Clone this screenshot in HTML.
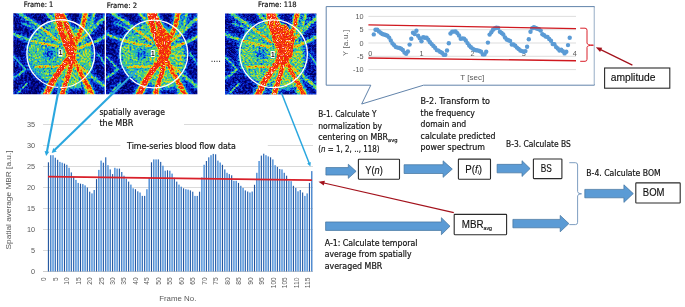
<!DOCTYPE html>
<html><head><meta charset="utf-8"><title>Figure</title>
<style>
html,body{margin:0;padding:0;background:#fff;}
svg{display:block;}
text{font-family:"Liberation Sans",sans-serif;}
.g{fill:#595959;}
.k{fill:#111;stroke:#111;stroke-width:0.18px;font-family:"DejaVu Sans","Liberation Sans",sans-serif;}
.b{fill:#111;stroke:#111;stroke-width:0.15px;}
</style></head><body>
<svg width="685" height="307" viewBox="0 0 685 307">
<rect width="685" height="307" fill="#fff"/>

<defs>
<filter id="jet1" x="0" y="0" width="1" height="1" color-interpolation-filters="sRGB" filterUnits="objectBoundingBox">
<feTurbulence type="fractalNoise" baseFrequency="0.5" numOctaves="2" seed="3" result="n"/>
<feColorMatrix in="n" type="matrix" values="1 0 0 0 0  1 0 0 0 0  1 0 0 0 0  0 0 0 0 1" result="ng"/>
<feComposite in="SourceGraphic" in2="ng" operator="arithmetic" k1="0.5" k2="0.75" k3="0.42" k4="-0.245" result="m"/>
<feComponentTransfer in="m" result="c">
<feFuncR type="table" tableValues="0.00 0.03 0.05 0.10 0.30 0.75 1.00 0.97 0.93 0.97 1.00"/>
<feFuncG type="table" tableValues="0.00 0.08 0.32 0.68 0.82 0.90 0.70 0.30 0.12 0.16 0.85"/>
<feFuncB type="table" tableValues="0.36 0.72 0.90 0.82 0.45 0.15 0.05 0.03 0.05 0.10 0.80"/>
</feComponentTransfer>
<feGaussianBlur in="c" stdDeviation="0.5"/>
</filter>
<filter id="jet2" x="0" y="0" width="1" height="1" color-interpolation-filters="sRGB" filterUnits="objectBoundingBox">
<feTurbulence type="fractalNoise" baseFrequency="0.5" numOctaves="2" seed="11" result="n"/>
<feColorMatrix in="n" type="matrix" values="1 0 0 0 0  1 0 0 0 0  1 0 0 0 0  0 0 0 0 1" result="ng"/>
<feComposite in="SourceGraphic" in2="ng" operator="arithmetic" k1="0.5" k2="0.75" k3="0.42" k4="-0.232" result="m"/>
<feComponentTransfer in="m" result="c">
<feFuncR type="table" tableValues="0.00 0.03 0.05 0.10 0.30 0.75 1.00 0.97 0.93 0.97 1.00"/>
<feFuncG type="table" tableValues="0.00 0.08 0.32 0.68 0.82 0.90 0.70 0.30 0.12 0.16 0.85"/>
<feFuncB type="table" tableValues="0.36 0.72 0.90 0.82 0.45 0.15 0.05 0.03 0.05 0.10 0.80"/>
</feComponentTransfer>
<feGaussianBlur in="c" stdDeviation="0.5"/>
</filter>
<filter id="jet3" x="0" y="0" width="1" height="1" color-interpolation-filters="sRGB" filterUnits="objectBoundingBox">
<feTurbulence type="fractalNoise" baseFrequency="0.5" numOctaves="2" seed="23" result="n"/>
<feColorMatrix in="n" type="matrix" values="1 0 0 0 0  1 0 0 0 0  1 0 0 0 0  0 0 0 0 1" result="ng"/>
<feComposite in="SourceGraphic" in2="ng" operator="arithmetic" k1="0.5" k2="0.75" k3="0.42" k4="-0.222" result="m"/>
<feComponentTransfer in="m" result="c">
<feFuncR type="table" tableValues="0.00 0.03 0.05 0.10 0.30 0.75 1.00 0.97 0.93 0.97 1.00"/>
<feFuncG type="table" tableValues="0.00 0.08 0.32 0.68 0.82 0.90 0.70 0.30 0.12 0.16 0.85"/>
<feFuncB type="table" tableValues="0.36 0.72 0.90 0.82 0.45 0.15 0.05 0.03 0.05 0.10 0.80"/>
</feComponentTransfer>
<feGaussianBlur in="c" stdDeviation="0.5"/>
</filter>
<filter id="b1" x="-0.2" y="-0.2" width="1.4" height="1.4"><feGaussianBlur stdDeviation="0.75"/></filter>
<filter id="b2" x="-0.2" y="-0.2" width="1.4" height="1.4"><feGaussianBlur stdDeviation="2.2"/></filter>
<clipPath id="cc"><circle cx="47.8" cy="40.5" r="33"/></clipPath>
<clipPath id="cp"><rect x="0" y="0" width="91.4" height="81"/></clipPath>
<g id="fg">
<rect x="-2" y="-2" width="96" height="85" fill="#121212"/>
<g filter="url(#b2)">
<ellipse cx="44" cy="40" rx="31" ry="31" fill="#6a6a6a"/>
<ellipse cx="62" cy="46" rx="18" ry="30" fill="#747474"/>
<ellipse cx="36" cy="41" rx="7" ry="5" fill="#383838"/>
<path d="M44,-2 C45,8 47,18 52,29 C55,35 57,40 57,45" fill="none" stroke="#686868" stroke-width="9.6" stroke-linecap="round"/>
<path d="M47,-2 C50,6 56,16 58.5,27 L59,34" fill="none" stroke="#686868" stroke-width="8.8" stroke-linecap="round"/>
<path d="M59,36 C63,28 67,20 70,11 L72.5,-2" fill="none" stroke="#686868" stroke-width="8" stroke-linecap="round"/>
<path d="M55,46 C50,53 44,60 38.5,70 L32,83" fill="none" stroke="#686868" stroke-width="9.6" stroke-linecap="round"/>
<path d="M58,47 C58,56 54,66 51,74 L49,83" fill="none" stroke="#686868" stroke-width="8.4" stroke-linecap="round"/>
<path d="M60,46 C64,54 69,63 73,70 L80,83" fill="none" stroke="#686868" stroke-width="8.2" stroke-linecap="round"/>
<path d="M54,31 C57,35 59,40 58.5,47" fill="none" stroke="#686868" stroke-width="11.5" stroke-linecap="round"/>
<path d="M62,30 C70,26 78,18 86,9 L94,3" fill="none" stroke="#484848" stroke-width="5.5" stroke-linecap="round"/>
<path d="M74,19 C78,12 80,6 81,-2" fill="none" stroke="#484848" stroke-width="5.3" stroke-linecap="round"/>
<path d="M60,36 C70,34 80,30 94,22" fill="none" stroke="#484848" stroke-width="5.3" stroke-linecap="round"/>
<path d="M62,50 C70,56 80,64 94,76" fill="none" stroke="#484848" stroke-width="5.3" stroke-linecap="round"/>
<path d="M46,29 C38,22 28,14 12,4 L4,-2" fill="none" stroke="#484848" stroke-width="5.1" stroke-linecap="round"/>
<path d="M44,33 C30,31 14,27 -2,20" fill="none" stroke="#484848" stroke-width="5.1" stroke-linecap="round"/>
<path d="M43,11 C40,7 36,3 32,-2" fill="none" stroke="#484848" stroke-width="5.3" stroke-linecap="round"/>
<path d="M46,53 C38,53 30,53 22,54" fill="none" stroke="#484848" stroke-width="4.9" stroke-linecap="round"/>
<path d="M66,58 C70,64 72,72 74,83" fill="none" stroke="#484848" stroke-width="5.3" stroke-linecap="round"/>
<path d="M12,56 C8,60 4,63 -2,66" fill="none" stroke="#3a3a3a" stroke-width="5" stroke-linecap="round"/>
<path d="M12,56 C8,52 4,46 -2,42" fill="none" stroke="#3a3a3a" stroke-width="4.6" stroke-linecap="round"/>
<path d="M30,19 C24,17 16,12 8,10" fill="none" stroke="#3a3a3a" stroke-width="4.6" stroke-linecap="round"/>
<path d="M14,70 C10,74 6,78 2,83" fill="none" stroke="#3a3a3a" stroke-width="4.6" stroke-linecap="round"/>
<path d="M84,40 C88,44 90,50 94,54" fill="none" stroke="#3a3a3a" stroke-width="4.6" stroke-linecap="round"/>
</g>
<g filter="url(#b1)">
<path d="M12,56 C8,60 4,63 -2,66" fill="none" stroke="#606060" stroke-width="2" stroke-linecap="round"/>
<path d="M12,56 C8,52 4,46 -2,42" fill="none" stroke="#606060" stroke-width="1.6" stroke-linecap="round"/>
<path d="M30,19 C24,17 16,12 8,10" fill="none" stroke="#606060" stroke-width="1.6" stroke-linecap="round"/>
<path d="M14,70 C10,74 6,78 2,83" fill="none" stroke="#606060" stroke-width="1.6" stroke-linecap="round"/>
<path d="M84,40 C88,44 90,50 94,54" fill="none" stroke="#606060" stroke-width="1.6" stroke-linecap="round"/>
<path d="M62,30 C70,26 78,18 86,9 L94,3" fill="none" stroke="#6c6c6c" stroke-width="3.2" stroke-linecap="round"/>
<path d="M74,19 C78,12 80,6 81,-2" fill="none" stroke="#6c6c6c" stroke-width="3.0" stroke-linecap="round"/>
<path d="M60,36 C70,34 80,30 94,22" fill="none" stroke="#6c6c6c" stroke-width="3.0" stroke-linecap="round"/>
<path d="M62,50 C70,56 80,64 94,76" fill="none" stroke="#6c6c6c" stroke-width="3.0" stroke-linecap="round"/>
<path d="M46,29 C38,22 28,14 12,4 L4,-2" fill="none" stroke="#6c6c6c" stroke-width="2.8" stroke-linecap="round"/>
<path d="M44,33 C30,31 14,27 -2,20" fill="none" stroke="#6c6c6c" stroke-width="2.8" stroke-linecap="round"/>
<path d="M43,11 C40,7 36,3 32,-2" fill="none" stroke="#6c6c6c" stroke-width="3.0" stroke-linecap="round"/>
<path d="M46,53 C38,53 30,53 22,54" fill="none" stroke="#6c6c6c" stroke-width="2.5999999999999996" stroke-linecap="round"/>
<path d="M66,58 C70,64 72,72 74,83" fill="none" stroke="#6c6c6c" stroke-width="3.0" stroke-linecap="round"/>
<g clip-path="url(#cc)">
<path d="M62,30 C70,26 78,18 86,9 L94,3" fill="none" stroke="#929292" stroke-width="3.0" stroke-linecap="round"/>
<path d="M74,19 C78,12 80,6 81,-2" fill="none" stroke="#929292" stroke-width="2.8" stroke-linecap="round"/>
<path d="M60,36 C70,34 80,30 94,22" fill="none" stroke="#929292" stroke-width="2.8" stroke-linecap="round"/>
<path d="M62,50 C70,56 80,64 94,76" fill="none" stroke="#929292" stroke-width="2.8" stroke-linecap="round"/>
<path d="M46,29 C38,22 28,14 12,4 L4,-2" fill="none" stroke="#929292" stroke-width="2.6" stroke-linecap="round"/>
<path d="M44,33 C30,31 14,27 -2,20" fill="none" stroke="#929292" stroke-width="2.6" stroke-linecap="round"/>
<path d="M43,11 C40,7 36,3 32,-2" fill="none" stroke="#929292" stroke-width="2.8" stroke-linecap="round"/>
<path d="M46,53 C38,53 30,53 22,54" fill="none" stroke="#929292" stroke-width="2.4" stroke-linecap="round"/>
<path d="M66,58 C70,64 72,72 74,83" fill="none" stroke="#929292" stroke-width="2.8" stroke-linecap="round"/>
</g>
<path d="M50,14 C54,12 58,14 60,20 C64,24 64,32 63,40 C63,46 60,52 57,52 C53,50 52,44 53,38 C52,30 49,22 50,14 Z" fill="#b4b4b4"/>
<path d="M44,-2 C45,8 47,18 52,29 C55,35 57,40 57,45" fill="none" stroke="#989898" stroke-width="6.8" stroke-linecap="round"/>
<path d="M47,-2 C50,6 56,16 58.5,27 L59,34" fill="none" stroke="#989898" stroke-width="6.0" stroke-linecap="round"/>
<path d="M59,36 C63,28 67,20 70,11 L72.5,-2" fill="none" stroke="#989898" stroke-width="5.2" stroke-linecap="round"/>
<path d="M55,46 C50,53 44,60 38.5,70 L32,83" fill="none" stroke="#989898" stroke-width="6.8" stroke-linecap="round"/>
<path d="M58,47 C58,56 54,66 51,74 L49,83" fill="none" stroke="#989898" stroke-width="5.6" stroke-linecap="round"/>
<path d="M60,46 C64,54 69,63 73,70 L80,83" fill="none" stroke="#989898" stroke-width="5.4" stroke-linecap="round"/>
<path d="M54,31 C57,35 59,40 58.5,47" fill="none" stroke="#989898" stroke-width="8.7" stroke-linecap="round"/>
<path d="M44,-2 C45,8 47,18 52,29 C55,35 57,40 57,45" fill="none" stroke="#dadada" stroke-width="4.6" stroke-linecap="round"/>
<path d="M47,-2 C50,6 56,16 58.5,27 L59,34" fill="none" stroke="#dadada" stroke-width="3.8" stroke-linecap="round"/>
<path d="M59,36 C63,28 67,20 70,11 L72.5,-2" fill="none" stroke="#c0c0c0" stroke-width="3" stroke-linecap="round"/>
<path d="M55,46 C50,53 44,60 38.5,70 L32,83" fill="none" stroke="#dadada" stroke-width="4.6" stroke-linecap="round"/>
<path d="M58,47 C58,56 54,66 51,74 L49,83" fill="none" stroke="#dadada" stroke-width="3.4" stroke-linecap="round"/>
<path d="M60,46 C64,54 69,63 73,70 L80,83" fill="none" stroke="#c0c0c0" stroke-width="3.2" stroke-linecap="round"/>
<path d="M54,31 C57,35 59,40 58.5,47" fill="none" stroke="#dadada" stroke-width="6.5" stroke-linecap="round"/>
</g>
</g>
</defs>
<g transform="translate(13.3,13.2)">
<g clip-path="url(#cp)"><g filter="url(#jet1)"><use href="#fg"/></g></g>
<circle cx="47.45" cy="40.45" r="33.9" fill="none" stroke="#fff" stroke-width="1.3"/>
</g>
<rect x="58.5" y="49.5" width="4" height="7" fill="#fff"/>
<text x="60.5" y="55.3" font-size="6.5" font-weight="bold" text-anchor="middle" fill="#111">1</text>
<g transform="translate(106,13.2)">
<g clip-path="url(#cp)"><g filter="url(#jet2)"><use href="#fg"/><path d="M51,16 L58,14 L65,24 L65,40 L59,50 L53,46 L54,32 Z" fill="#c8c8c8" filter="url(#b1)" opacity="0.8"/></g></g>
<circle cx="47.9" cy="40.8" r="33.9" fill="none" stroke="#fff" stroke-width="1.3"/>
</g>
<rect x="150.8" y="50.0" width="4" height="7" fill="#fff"/>
<text x="152.8" y="55.8" font-size="6.5" font-weight="bold" text-anchor="middle" fill="#111">1</text>
<g transform="translate(225,13.5)">
<g clip-path="url(#cp)"><g filter="url(#jet3)"><use href="#fg"/><path d="M48.8,13 L60.7,10.6 L70,23.7 L67.3,42.2 L59.4,52.8 L51.5,47.5 L52.8,31.7 L47.5,21 Z" fill="#cecece" filter="url(#b1)" opacity="0.9"/></g></g>
<circle cx="48.55" cy="40.25" r="33.9" fill="none" stroke="#fff" stroke-width="1.3"/>
</g>
<rect x="270.7" y="51.0" width="4" height="7" fill="#fff"/>
<text x="272.7" y="56.8" font-size="6.5" font-weight="bold" text-anchor="middle" fill="#111">1</text>
<text x="23.8" y="6.9" font-size="7.4" class="k" textLength="29.5" lengthAdjust="spacingAndGlyphs" stroke="#111" stroke-width="0.3">Frame: 1</text>
<text x="106.8" y="7.7" font-size="7.4" class="k" textLength="30.2" lengthAdjust="spacingAndGlyphs" stroke="#111" stroke-width="0.3">Frame: 2</text>
<text x="258" y="6.9" font-size="7.4" class="k" textLength="38.7" lengthAdjust="spacingAndGlyphs" stroke="#111" stroke-width="0.3">Frame: 118</text>
<text x="210.6" y="62.4" font-size="11" fill="#444" textLength="10.4" lengthAdjust="spacing">....</text>
<line x1="43" y1="271.5" x2="313" y2="271.5" stroke="#bfbfbf" stroke-width="0.8"/>
<text x="35" y="274.1" font-size="7.3" class="g" text-anchor="end">0</text>
<line x1="43" y1="250.5" x2="313" y2="250.5" stroke="#d0d0d0" stroke-width="0.8"/>
<text x="35" y="253.1" font-size="7.3" class="g" text-anchor="end">5</text>
<line x1="43" y1="229.5" x2="313" y2="229.5" stroke="#d0d0d0" stroke-width="0.8"/>
<text x="35" y="232.1" font-size="7.3" class="g" text-anchor="end">10</text>
<line x1="43" y1="208.5" x2="313" y2="208.5" stroke="#d0d0d0" stroke-width="0.8"/>
<text x="35" y="211.1" font-size="7.3" class="g" text-anchor="end">15</text>
<line x1="43" y1="187.5" x2="313" y2="187.5" stroke="#d0d0d0" stroke-width="0.8"/>
<text x="35" y="190.1" font-size="7.3" class="g" text-anchor="end">20</text>
<line x1="43" y1="166.5" x2="313" y2="166.5" stroke="#d0d0d0" stroke-width="0.8"/>
<text x="35" y="169.1" font-size="7.3" class="g" text-anchor="end">25</text>
<line x1="43" y1="145.5" x2="313" y2="145.5" stroke="#d0d0d0" stroke-width="0.8"/>
<text x="35" y="148.1" font-size="7.3" class="g" text-anchor="end">30</text>
<line x1="43" y1="124.5" x2="313" y2="124.5" stroke="#d0d0d0" stroke-width="0.8"/>
<text x="35" y="127.1" font-size="7.3" class="g" text-anchor="end">35</text>
<rect x="91" y="106" width="93" height="24" fill="#fff"/>
<rect x="120.4" y="139" width="147.4" height="13" fill="#fff"/>
<rect x="47.86" y="162.3" width="1.17" height="109.2" fill="#285aa1"/>
<rect x="50.02" y="155.2" width="1.44" height="116.3" fill="#4b85ca"/>
<rect x="52.25" y="155.2" width="1.55" height="116.3" fill="#5a98dc"/>
<rect x="54.64" y="157.7" width="1.35" height="113.8" fill="#4078be"/>
<rect x="56.98" y="159.8" width="1.25" height="111.7" fill="#3367ae"/>
<rect x="59.12" y="161.9" width="1.55" height="109.6" fill="#5a98dc"/>
<rect x="61.42" y="162.7" width="1.54" height="108.8" fill="#5996da"/>
<rect x="63.91" y="163.6" width="1.13" height="107.9" fill="#23539b"/>
<rect x="66.03" y="164.8" width="1.48" height="106.7" fill="#508cd0"/>
<rect x="68.28" y="167.8" width="1.55" height="103.7" fill="#5a98dc"/>
<rect x="70.69" y="172.4" width="1.32" height="99.1" fill="#3b72b8"/>
<rect x="72.99" y="177.0" width="1.29" height="94.5" fill="#386db4"/>
<rect x="75.15" y="179.9" width="1.55" height="91.6" fill="#5a98dc"/>
<rect x="77.46" y="182.9" width="1.50" height="88.6" fill="#5490d4"/>
<rect x="79.95" y="183.7" width="1.11" height="87.8" fill="#204f97"/>
<rect x="82.04" y="184.1" width="1.51" height="87.4" fill="#5592d6"/>
<rect x="84.31" y="185.4" width="1.55" height="86.1" fill="#5a98dc"/>
<rect x="86.73" y="187.5" width="1.28" height="84.0" fill="#366bb2"/>
<rect x="89.00" y="191.7" width="1.33" height="79.8" fill="#3d74ba"/>
<rect x="91.18" y="193.4" width="1.55" height="78.1" fill="#5a98dc"/>
<rect x="93.51" y="190.0" width="1.46" height="81.5" fill="#4f8ace"/>
<rect x="95.96" y="179.1" width="1.14" height="92.4" fill="#25559d"/>
<rect x="98.05" y="169.9" width="1.55" height="101.6" fill="#5a98dc"/>
<rect x="100.34" y="160.6" width="1.55" height="110.9" fill="#5a98dc"/>
<rect x="102.78" y="162.7" width="1.24" height="108.8" fill="#3165ac"/>
<rect x="105.01" y="157.3" width="1.37" height="114.2" fill="#427ac0"/>
<rect x="107.20" y="165.2" width="1.55" height="106.3" fill="#5a98dc"/>
<rect x="109.56" y="169.4" width="1.42" height="102.1" fill="#4a83c8"/>
<rect x="111.97" y="174.1" width="1.18" height="97.4" fill="#2a5ca3"/>
<rect x="114.07" y="167.8" width="1.55" height="103.7" fill="#5a98dc"/>
<rect x="116.36" y="168.6" width="1.55" height="102.9" fill="#5a98dc"/>
<rect x="118.83" y="168.6" width="1.20" height="102.9" fill="#2c5fa6"/>
<rect x="121.01" y="172.0" width="1.41" height="99.5" fill="#4780c6"/>
<rect x="123.23" y="175.7" width="1.55" height="95.8" fill="#5a98dc"/>
<rect x="125.60" y="178.7" width="1.39" height="92.8" fill="#457dc3"/>
<rect x="127.98" y="181.6" width="1.22" height="89.9" fill="#2f62a9"/>
<rect x="130.10" y="184.6" width="1.55" height="86.9" fill="#5a98dc"/>
<rect x="132.39" y="188.3" width="1.55" height="83.2" fill="#5a98dc"/>
<rect x="134.87" y="189.2" width="1.16" height="82.3" fill="#2758a0"/>
<rect x="137.02" y="191.3" width="1.44" height="80.2" fill="#4c87cb"/>
<rect x="139.26" y="192.5" width="1.55" height="79.0" fill="#5a98dc"/>
<rect x="141.65" y="195.9" width="1.35" height="75.6" fill="#4077bd"/>
<rect x="143.98" y="195.9" width="1.26" height="75.6" fill="#3468af"/>
<rect x="146.13" y="189.2" width="1.55" height="82.3" fill="#5a98dc"/>
<rect x="148.43" y="177.8" width="1.53" height="93.7" fill="#5895d9"/>
<rect x="150.92" y="162.3" width="1.13" height="109.2" fill="#22529a"/>
<rect x="153.03" y="159.4" width="1.48" height="112.1" fill="#518dd1"/>
<rect x="155.29" y="159.4" width="1.55" height="112.1" fill="#5a98dc"/>
<rect x="157.70" y="159.4" width="1.31" height="112.1" fill="#3b71b7"/>
<rect x="159.99" y="161.9" width="1.30" height="109.6" fill="#396eb5"/>
<rect x="162.16" y="165.7" width="1.55" height="105.8" fill="#5a98dc"/>
<rect x="164.47" y="170.7" width="1.49" height="100.8" fill="#538fd3"/>
<rect x="166.95" y="170.3" width="1.11" height="101.2" fill="#215098"/>
<rect x="169.04" y="170.7" width="1.52" height="100.8" fill="#5693d7"/>
<rect x="171.31" y="173.6" width="1.55" height="97.9" fill="#5a98dc"/>
<rect x="173.74" y="177.8" width="1.27" height="93.7" fill="#356ab1"/>
<rect x="176.00" y="181.6" width="1.34" height="89.9" fill="#3e75bb"/>
<rect x="178.18" y="184.6" width="1.55" height="86.9" fill="#5a98dc"/>
<rect x="180.52" y="186.7" width="1.46" height="84.8" fill="#4e89cd"/>
<rect x="182.96" y="188.3" width="1.15" height="83.2" fill="#26569e"/>
<rect x="185.05" y="189.2" width="1.55" height="82.3" fill="#5a98dc"/>
<rect x="187.34" y="189.6" width="1.55" height="81.9" fill="#5a98dc"/>
<rect x="189.79" y="190.4" width="1.23" height="81.1" fill="#3064ab"/>
<rect x="192.01" y="191.7" width="1.37" height="79.8" fill="#437bc1"/>
<rect x="194.21" y="195.9" width="1.55" height="75.6" fill="#5a98dc"/>
<rect x="196.57" y="195.9" width="1.42" height="75.6" fill="#4982c7"/>
<rect x="198.97" y="191.7" width="1.19" height="79.8" fill="#2b5da4"/>
<rect x="201.08" y="177.4" width="1.55" height="94.1" fill="#5a98dc"/>
<rect x="203.37" y="164.8" width="1.55" height="106.7" fill="#5a98dc"/>
<rect x="205.83" y="161.0" width="1.20" height="110.5" fill="#2b5ea5"/>
<rect x="208.02" y="157.3" width="1.41" height="114.2" fill="#4881c7"/>
<rect x="210.24" y="155.2" width="1.55" height="116.3" fill="#5a98dc"/>
<rect x="212.61" y="153.9" width="1.38" height="117.6" fill="#447cc1"/>
<rect x="214.98" y="154.3" width="1.23" height="117.2" fill="#3063aa"/>
<rect x="217.11" y="160.6" width="1.55" height="110.9" fill="#5a98dc"/>
<rect x="219.40" y="162.5" width="1.55" height="109.0" fill="#5a98dc"/>
<rect x="221.88" y="164.8" width="1.16" height="106.7" fill="#26579f"/>
<rect x="224.02" y="169.4" width="1.45" height="102.1" fill="#4d88cd"/>
<rect x="226.26" y="172.8" width="1.55" height="98.7" fill="#5a98dc"/>
<rect x="228.66" y="174.1" width="1.34" height="97.4" fill="#3f76bc"/>
<rect x="230.99" y="175.3" width="1.27" height="96.2" fill="#3569b0"/>
<rect x="233.13" y="180.8" width="1.55" height="90.7" fill="#5a98dc"/>
<rect x="235.43" y="180.8" width="1.53" height="90.7" fill="#5794d8"/>
<rect x="237.93" y="182.9" width="1.12" height="88.6" fill="#215199"/>
<rect x="240.03" y="185.8" width="1.49" height="85.7" fill="#528ed2"/>
<rect x="242.29" y="187.9" width="1.55" height="83.6" fill="#5a98dc"/>
<rect x="244.70" y="190.4" width="1.30" height="81.1" fill="#3a6fb6"/>
<rect x="246.99" y="191.5" width="1.30" height="80.0" fill="#3a70b6"/>
<rect x="249.16" y="192.5" width="1.55" height="79.0" fill="#5a98dc"/>
<rect x="251.48" y="191.5" width="1.49" height="80.0" fill="#528ed2"/>
<rect x="253.95" y="184.8" width="1.12" height="86.7" fill="#225199"/>
<rect x="256.04" y="172.8" width="1.53" height="98.7" fill="#5794d8"/>
<rect x="258.32" y="161.0" width="1.55" height="110.5" fill="#5a98dc"/>
<rect x="260.75" y="155.6" width="1.26" height="115.9" fill="#3569b0"/>
<rect x="263.00" y="153.7" width="1.34" height="117.8" fill="#3f76bc"/>
<rect x="265.19" y="155.2" width="1.55" height="116.3" fill="#5a98dc"/>
<rect x="267.53" y="156.4" width="1.45" height="115.1" fill="#4d87cc"/>
<rect x="269.96" y="157.3" width="1.16" height="114.2" fill="#27589f"/>
<rect x="272.06" y="159.4" width="1.55" height="112.1" fill="#5a98dc"/>
<rect x="274.35" y="165.2" width="1.55" height="106.3" fill="#5a98dc"/>
<rect x="276.80" y="166.9" width="1.23" height="104.6" fill="#3063aa"/>
<rect x="279.01" y="169.0" width="1.38" height="102.5" fill="#447cc2"/>
<rect x="281.21" y="169.4" width="1.55" height="102.1" fill="#5a98dc"/>
<rect x="283.57" y="172.8" width="1.41" height="98.7" fill="#4881c6"/>
<rect x="285.97" y="175.7" width="1.20" height="95.8" fill="#2c5ea5"/>
<rect x="288.08" y="180.8" width="1.55" height="90.7" fill="#5a98dc"/>
<rect x="290.37" y="181.2" width="1.55" height="90.3" fill="#5a98dc"/>
<rect x="292.84" y="185.8" width="1.19" height="85.7" fill="#2b5da4"/>
<rect x="295.02" y="187.9" width="1.42" height="83.6" fill="#4982c8"/>
<rect x="297.24" y="191.3" width="1.55" height="80.2" fill="#5a98dc"/>
<rect x="299.62" y="190.0" width="1.37" height="81.5" fill="#437bc0"/>
<rect x="301.98" y="192.5" width="1.23" height="79.0" fill="#3164ab"/>
<rect x="304.11" y="195.9" width="1.55" height="75.6" fill="#5a98dc"/>
<rect x="306.40" y="193.4" width="1.55" height="78.1" fill="#5a98dc"/>
<rect x="308.89" y="182.9" width="1.15" height="88.6" fill="#26569e"/>
<rect x="311.03" y="171.1" width="1.46" height="100.4" fill="#4e89ce"/>
<text transform="translate(46.1,277.4) rotate(-90)" font-size="7" class="g" text-anchor="end" textLength="3.6" lengthAdjust="spacingAndGlyphs">0</text>
<text transform="translate(57.6,277.4) rotate(-90)" font-size="7" class="g" text-anchor="end" textLength="3.6" lengthAdjust="spacingAndGlyphs">5</text>
<text transform="translate(69.0,277.4) rotate(-90)" font-size="7" class="g" text-anchor="end" textLength="7.4" lengthAdjust="spacingAndGlyphs">10</text>
<text transform="translate(80.5,277.4) rotate(-90)" font-size="7" class="g" text-anchor="end" textLength="7.4" lengthAdjust="spacingAndGlyphs">15</text>
<text transform="translate(92.0,277.4) rotate(-90)" font-size="7" class="g" text-anchor="end" textLength="7.4" lengthAdjust="spacingAndGlyphs">20</text>
<text transform="translate(103.5,277.4) rotate(-90)" font-size="7" class="g" text-anchor="end" textLength="7.4" lengthAdjust="spacingAndGlyphs">25</text>
<text transform="translate(114.9,277.4) rotate(-90)" font-size="7" class="g" text-anchor="end" textLength="7.4" lengthAdjust="spacingAndGlyphs">30</text>
<text transform="translate(126.4,277.4) rotate(-90)" font-size="7" class="g" text-anchor="end" textLength="7.4" lengthAdjust="spacingAndGlyphs">35</text>
<text transform="translate(137.9,277.4) rotate(-90)" font-size="7" class="g" text-anchor="end" textLength="7.4" lengthAdjust="spacingAndGlyphs">40</text>
<text transform="translate(149.4,277.4) rotate(-90)" font-size="7" class="g" text-anchor="end" textLength="7.4" lengthAdjust="spacingAndGlyphs">45</text>
<text transform="translate(160.8,277.4) rotate(-90)" font-size="7" class="g" text-anchor="end" textLength="7.4" lengthAdjust="spacingAndGlyphs">50</text>
<text transform="translate(172.3,277.4) rotate(-90)" font-size="7" class="g" text-anchor="end" textLength="7.4" lengthAdjust="spacingAndGlyphs">55</text>
<text transform="translate(183.8,277.4) rotate(-90)" font-size="7" class="g" text-anchor="end" textLength="7.4" lengthAdjust="spacingAndGlyphs">60</text>
<text transform="translate(195.3,277.4) rotate(-90)" font-size="7" class="g" text-anchor="end" textLength="7.4" lengthAdjust="spacingAndGlyphs">65</text>
<text transform="translate(206.8,277.4) rotate(-90)" font-size="7" class="g" text-anchor="end" textLength="7.4" lengthAdjust="spacingAndGlyphs">70</text>
<text transform="translate(218.2,277.4) rotate(-90)" font-size="7" class="g" text-anchor="end" textLength="7.4" lengthAdjust="spacingAndGlyphs">75</text>
<text transform="translate(229.7,277.4) rotate(-90)" font-size="7" class="g" text-anchor="end" textLength="7.4" lengthAdjust="spacingAndGlyphs">80</text>
<text transform="translate(241.2,277.4) rotate(-90)" font-size="7" class="g" text-anchor="end" textLength="7.4" lengthAdjust="spacingAndGlyphs">85</text>
<text transform="translate(252.6,277.4) rotate(-90)" font-size="7" class="g" text-anchor="end" textLength="7.4" lengthAdjust="spacingAndGlyphs">90</text>
<text transform="translate(264.1,277.4) rotate(-90)" font-size="7" class="g" text-anchor="end" textLength="7.4" lengthAdjust="spacingAndGlyphs">95</text>
<text transform="translate(275.6,277.4) rotate(-90)" font-size="7" class="g" text-anchor="end" textLength="10.8" lengthAdjust="spacingAndGlyphs">100</text>
<text transform="translate(287.1,277.4) rotate(-90)" font-size="7" class="g" text-anchor="end" textLength="10.8" lengthAdjust="spacingAndGlyphs">105</text>
<text transform="translate(298.6,277.4) rotate(-90)" font-size="7" class="g" text-anchor="end" textLength="10.8" lengthAdjust="spacingAndGlyphs">110</text>
<text transform="translate(310.0,277.4) rotate(-90)" font-size="7" class="g" text-anchor="end" textLength="10.8" lengthAdjust="spacingAndGlyphs">115</text>
<text x="159.2" y="300.8" font-size="7.5" class="g" textLength="37.2" lengthAdjust="spacingAndGlyphs">Frame No.</text>
<text transform="translate(11.3,200) rotate(-90)" font-size="7.3" class="g" text-anchor="middle" textLength="99" lengthAdjust="spacingAndGlyphs">Spatial average MBR [a.u.]</text>
<line x1="48" y1="176.6" x2="311.9" y2="180.2" stroke="#d9202a" stroke-width="1.7"/>
<text x="99.4" y="115" font-size="8.4" class="k" textLength="65.5" lengthAdjust="spacingAndGlyphs">spatially average</text>
<text x="99.4" y="126" font-size="8.4" class="k" textLength="34" lengthAdjust="spacingAndGlyphs">the MBR</text>
<text x="127.1" y="149" font-size="8.4" class="k" textLength="108.7" lengthAdjust="spacingAndGlyphs">Time-series blood flow data</text>
<line x1="60.7" y1="79" x2="46.9" y2="151.9" stroke="#2aa7df" stroke-width="2.1"/>
<polygon points="46.1,155.9 44.6,150.9 49.3,151.8" fill="#2aa7df"/>
<line x1="137" y1="70" x2="54.6" y2="150.1" stroke="#2aa7df" stroke-width="2.1"/>
<polygon points="51.7,153.0 53.3,148.1 56.7,151.5" fill="#2aa7df"/>
<line x1="281.3" y1="92.5" x2="309.1" y2="163.1" stroke="#2aa7df" stroke-width="1.5"/>
<polygon points="310.4,166.4 307.1,163.4 310.8,161.9" fill="#2aa7df"/>
<path d="M326.2,6.6 H594.4 V85.2 H423.5 L361.7,104 L370.8,85.2 H326.2 Z" fill="#fff" stroke="#4f75a0" stroke-width="0.9" stroke-linejoin="miter"/>
<line x1="594.4" y1="7.2" x2="594.4" y2="84.6" stroke="#b4c4d6" stroke-width="1.2"/>
<line x1="368.4" y1="16.4" x2="576" y2="16.4" stroke="#d4d4d4" stroke-width="0.8"/>
<text x="363.5" y="19.0" font-size="7.3" class="g" text-anchor="end">10</text>
<line x1="368.4" y1="29.7" x2="576" y2="29.7" stroke="#d4d4d4" stroke-width="0.8"/>
<text x="363.5" y="32.3" font-size="7.3" class="g" text-anchor="end">5</text>
<line x1="368.4" y1="43.0" x2="576" y2="43.0" stroke="#d4d4d4" stroke-width="0.8"/>
<text x="363.5" y="45.6" font-size="7.3" class="g" text-anchor="end">0</text>
<line x1="368.4" y1="56.3" x2="576" y2="56.3" stroke="#d4d4d4" stroke-width="0.8"/>
<text x="363.5" y="58.9" font-size="7.3" class="g" text-anchor="end">-5</text>
<line x1="368.4" y1="69.6" x2="576" y2="69.6" stroke="#d4d4d4" stroke-width="0.8"/>
<text x="363.5" y="72.2" font-size="7.3" class="g" text-anchor="end">-10</text>
<text x="370.4" y="56.3" font-size="7.3" class="g" text-anchor="middle">0</text>
<text x="421.5" y="56.3" font-size="7.3" class="g" text-anchor="middle">1</text>
<text x="472.6" y="56.3" font-size="7.3" class="g" text-anchor="middle">2</text>
<text x="523.7" y="56.3" font-size="7.3" class="g" text-anchor="middle">3</text>
<text x="574.8" y="56.3" font-size="7.3" class="g" text-anchor="middle">4</text>
<text x="460.3" y="80.2" font-size="7.5" class="g" textLength="24" lengthAdjust="spacingAndGlyphs">T [sec]</text>
<text transform="translate(347.6,43) rotate(-90)" font-size="7.5" class="g" text-anchor="middle" textLength="26">Y [a.u.]</text>
<circle cx="373.8" cy="34.4" r="2.2" fill="#5b9bd5"/>
<circle cx="375.5" cy="29.8" r="2.2" fill="#5b9bd5"/>
<circle cx="377.2" cy="29.8" r="2.2" fill="#5b9bd5"/>
<circle cx="378.9" cy="31.4" r="2.2" fill="#5b9bd5"/>
<circle cx="380.6" cy="32.7" r="2.2" fill="#5b9bd5"/>
<circle cx="382.3" cy="34.0" r="2.2" fill="#5b9bd5"/>
<circle cx="384.0" cy="34.5" r="2.2" fill="#5b9bd5"/>
<circle cx="385.7" cy="35.0" r="2.2" fill="#5b9bd5"/>
<circle cx="387.4" cy="35.8" r="2.2" fill="#5b9bd5"/>
<circle cx="389.1" cy="37.6" r="2.2" fill="#5b9bd5"/>
<circle cx="390.8" cy="40.5" r="2.2" fill="#5b9bd5"/>
<circle cx="392.5" cy="43.4" r="2.2" fill="#5b9bd5"/>
<circle cx="394.2" cy="45.3" r="2.2" fill="#5b9bd5"/>
<circle cx="395.9" cy="47.1" r="2.2" fill="#5b9bd5"/>
<circle cx="397.7" cy="47.6" r="2.2" fill="#5b9bd5"/>
<circle cx="399.4" cy="47.9" r="2.2" fill="#5b9bd5"/>
<circle cx="401.1" cy="48.7" r="2.2" fill="#5b9bd5"/>
<circle cx="402.8" cy="50.0" r="2.2" fill="#5b9bd5"/>
<circle cx="404.5" cy="52.6" r="2.2" fill="#5b9bd5"/>
<circle cx="406.2" cy="53.7" r="2.2" fill="#5b9bd5"/>
<circle cx="407.9" cy="51.5" r="2.2" fill="#5b9bd5"/>
<circle cx="409.6" cy="44.6" r="2.2" fill="#5b9bd5"/>
<circle cx="411.3" cy="38.7" r="2.2" fill="#5b9bd5"/>
<circle cx="413.0" cy="32.8" r="2.2" fill="#5b9bd5"/>
<circle cx="414.7" cy="34.1" r="2.2" fill="#5b9bd5"/>
<circle cx="416.4" cy="30.7" r="2.2" fill="#5b9bd5"/>
<circle cx="418.1" cy="35.7" r="2.2" fill="#5b9bd5"/>
<circle cx="419.8" cy="38.3" r="2.2" fill="#5b9bd5"/>
<circle cx="421.5" cy="41.3" r="2.2" fill="#5b9bd5"/>
<circle cx="423.2" cy="37.2" r="2.2" fill="#5b9bd5"/>
<circle cx="424.9" cy="37.8" r="2.2" fill="#5b9bd5"/>
<circle cx="426.6" cy="37.7" r="2.2" fill="#5b9bd5"/>
<circle cx="428.3" cy="39.8" r="2.2" fill="#5b9bd5"/>
<circle cx="430.0" cy="42.2" r="2.2" fill="#5b9bd5"/>
<circle cx="431.7" cy="44.1" r="2.2" fill="#5b9bd5"/>
<circle cx="433.4" cy="45.9" r="2.2" fill="#5b9bd5"/>
<circle cx="435.1" cy="47.7" r="2.2" fill="#5b9bd5"/>
<circle cx="436.8" cy="50.1" r="2.2" fill="#5b9bd5"/>
<circle cx="438.5" cy="50.6" r="2.2" fill="#5b9bd5"/>
<circle cx="440.2" cy="51.9" r="2.2" fill="#5b9bd5"/>
<circle cx="441.9" cy="52.7" r="2.2" fill="#5b9bd5"/>
<circle cx="443.6" cy="54.8" r="2.2" fill="#5b9bd5"/>
<circle cx="445.3" cy="54.8" r="2.2" fill="#5b9bd5"/>
<circle cx="447.0" cy="50.5" r="2.2" fill="#5b9bd5"/>
<circle cx="448.8" cy="43.3" r="2.2" fill="#5b9bd5"/>
<circle cx="450.5" cy="33.5" r="2.2" fill="#5b9bd5"/>
<circle cx="452.2" cy="31.6" r="2.2" fill="#5b9bd5"/>
<circle cx="453.9" cy="31.6" r="2.2" fill="#5b9bd5"/>
<circle cx="455.6" cy="31.5" r="2.2" fill="#5b9bd5"/>
<circle cx="457.3" cy="33.1" r="2.2" fill="#5b9bd5"/>
<circle cx="459.0" cy="35.5" r="2.2" fill="#5b9bd5"/>
<circle cx="460.7" cy="38.7" r="2.2" fill="#5b9bd5"/>
<circle cx="462.4" cy="38.4" r="2.2" fill="#5b9bd5"/>
<circle cx="464.1" cy="38.6" r="2.2" fill="#5b9bd5"/>
<circle cx="465.8" cy="40.5" r="2.2" fill="#5b9bd5"/>
<circle cx="467.5" cy="43.1" r="2.2" fill="#5b9bd5"/>
<circle cx="469.2" cy="45.5" r="2.2" fill="#5b9bd5"/>
<circle cx="470.9" cy="47.3" r="2.2" fill="#5b9bd5"/>
<circle cx="472.6" cy="48.6" r="2.2" fill="#5b9bd5"/>
<circle cx="474.3" cy="49.7" r="2.2" fill="#5b9bd5"/>
<circle cx="476.0" cy="50.2" r="2.2" fill="#5b9bd5"/>
<circle cx="477.7" cy="50.4" r="2.2" fill="#5b9bd5"/>
<circle cx="479.4" cy="51.0" r="2.2" fill="#5b9bd5"/>
<circle cx="481.1" cy="51.7" r="2.2" fill="#5b9bd5"/>
<circle cx="482.8" cy="54.4" r="2.2" fill="#5b9bd5"/>
<circle cx="484.5" cy="54.4" r="2.2" fill="#5b9bd5"/>
<circle cx="486.2" cy="51.7" r="2.2" fill="#5b9bd5"/>
<circle cx="487.9" cy="42.6" r="2.2" fill="#5b9bd5"/>
<circle cx="489.6" cy="34.6" r="2.2" fill="#5b9bd5"/>
<circle cx="491.3" cy="32.2" r="2.2" fill="#5b9bd5"/>
<circle cx="493.0" cy="29.8" r="2.2" fill="#5b9bd5"/>
<circle cx="494.7" cy="28.4" r="2.2" fill="#5b9bd5"/>
<circle cx="496.4" cy="27.6" r="2.2" fill="#5b9bd5"/>
<circle cx="498.1" cy="27.9" r="2.2" fill="#5b9bd5"/>
<circle cx="499.9" cy="31.8" r="2.2" fill="#5b9bd5"/>
<circle cx="501.6" cy="33.0" r="2.2" fill="#5b9bd5"/>
<circle cx="503.3" cy="34.5" r="2.2" fill="#5b9bd5"/>
<circle cx="505.0" cy="37.4" r="2.2" fill="#5b9bd5"/>
<circle cx="506.7" cy="39.5" r="2.2" fill="#5b9bd5"/>
<circle cx="508.4" cy="40.2" r="2.2" fill="#5b9bd5"/>
<circle cx="510.1" cy="41.0" r="2.2" fill="#5b9bd5"/>
<circle cx="511.8" cy="44.5" r="2.2" fill="#5b9bd5"/>
<circle cx="513.5" cy="44.4" r="2.2" fill="#5b9bd5"/>
<circle cx="515.2" cy="45.8" r="2.2" fill="#5b9bd5"/>
<circle cx="516.9" cy="47.6" r="2.2" fill="#5b9bd5"/>
<circle cx="518.6" cy="48.9" r="2.2" fill="#5b9bd5"/>
<circle cx="520.3" cy="50.5" r="2.2" fill="#5b9bd5"/>
<circle cx="522.0" cy="51.1" r="2.2" fill="#5b9bd5"/>
<circle cx="523.7" cy="51.8" r="2.2" fill="#5b9bd5"/>
<circle cx="525.4" cy="51.1" r="2.2" fill="#5b9bd5"/>
<circle cx="527.1" cy="46.8" r="2.2" fill="#5b9bd5"/>
<circle cx="528.8" cy="39.2" r="2.2" fill="#5b9bd5"/>
<circle cx="530.5" cy="31.7" r="2.2" fill="#5b9bd5"/>
<circle cx="532.2" cy="28.3" r="2.2" fill="#5b9bd5"/>
<circle cx="533.9" cy="27.1" r="2.2" fill="#5b9bd5"/>
<circle cx="535.6" cy="28.0" r="2.2" fill="#5b9bd5"/>
<circle cx="537.3" cy="28.7" r="2.2" fill="#5b9bd5"/>
<circle cx="539.0" cy="29.3" r="2.2" fill="#5b9bd5"/>
<circle cx="540.7" cy="30.6" r="2.2" fill="#5b9bd5"/>
<circle cx="542.4" cy="34.3" r="2.2" fill="#5b9bd5"/>
<circle cx="544.1" cy="35.3" r="2.2" fill="#5b9bd5"/>
<circle cx="545.8" cy="36.6" r="2.2" fill="#5b9bd5"/>
<circle cx="547.5" cy="36.9" r="2.2" fill="#5b9bd5"/>
<circle cx="549.2" cy="39.0" r="2.2" fill="#5b9bd5"/>
<circle cx="551.0" cy="40.8" r="2.2" fill="#5b9bd5"/>
<circle cx="552.7" cy="44.0" r="2.2" fill="#5b9bd5"/>
<circle cx="554.4" cy="44.2" r="2.2" fill="#5b9bd5"/>
<circle cx="556.1" cy="47.1" r="2.2" fill="#5b9bd5"/>
<circle cx="557.8" cy="48.5" r="2.2" fill="#5b9bd5"/>
<circle cx="559.5" cy="50.6" r="2.2" fill="#5b9bd5"/>
<circle cx="561.2" cy="49.7" r="2.2" fill="#5b9bd5"/>
<circle cx="562.9" cy="51.3" r="2.2" fill="#5b9bd5"/>
<circle cx="564.6" cy="53.4" r="2.2" fill="#5b9bd5"/>
<circle cx="566.3" cy="51.8" r="2.2" fill="#5b9bd5"/>
<circle cx="568.0" cy="45.1" r="2.2" fill="#5b9bd5"/>
<circle cx="569.7" cy="37.7" r="2.2" fill="#5b9bd5"/>
<line x1="368.4" y1="24.9" x2="576" y2="28.6" stroke="#d0181f" stroke-width="1.4"/>
<line x1="368.4" y1="58" x2="576" y2="60.7" stroke="#d0181f" stroke-width="1.4"/>
<path d="M580.2,28.2 H585 Q587,28.2 587,30.2 V43 Q587,45.2 593.4,45.2 Q587,45.2 587,47.4 V59.3 Q587,61.3 585,61.3 H580.2" fill="none" stroke="#d9202a" stroke-width="1"/>
<line x1="632.4" y1="65.1" x2="600.7" y2="49.6" stroke="#a3121c" stroke-width="1.2"/>
<polygon points="595.8,47.2 602.2,47.7 600.1,52.0" fill="#a3121c"/>
<rect x="604.6" y="68" width="65.2" height="20.2" fill="#fff" stroke="#2a2a2a" stroke-width="1.1"/>
<text x="610.8" y="81.4" font-size="10.6" class="b" textLength="44.6" lengthAdjust="spacingAndGlyphs">amplitude</text>
<text x="318.2" y="117.1" font-size="8.2" class="k" textLength="58.2" lengthAdjust="spacingAndGlyphs">B-1. Calculate Y</text>
<text x="318.2" y="128.7" font-size="8.2" class="k" textLength="63.9" lengthAdjust="spacingAndGlyphs">normalization by</text>
<text x="318.2" y="140.2" font-size="8.2" class="k" textLength="79.4" lengthAdjust="spacingAndGlyphs">centering on MBR<tspan font-size="5.4" dy="1.8">avg</tspan></text>
<text x="318.2" y="151.8" font-size="8.2" class="k" textLength="61.4" lengthAdjust="spacingAndGlyphs">(<tspan font-style="italic">n</tspan> = 1, 2, .., 118)</text>
<text x="420.6" y="104.2" font-size="8.2" class="k" textLength="69.4" lengthAdjust="spacingAndGlyphs">B-2. Transform to</text>
<text x="420.6" y="115.8" font-size="8.2" class="k" textLength="54.3" lengthAdjust="spacingAndGlyphs">the frequency</text>
<text x="420.6" y="127.3" font-size="8.2" class="k" textLength="45.6" lengthAdjust="spacingAndGlyphs">domain and</text>
<text x="420.6" y="138.9" font-size="8.2" class="k" textLength="74.9" lengthAdjust="spacingAndGlyphs">calculate predicted</text>
<text x="420.6" y="150.4" font-size="8.2" class="k" textLength="64.3" lengthAdjust="spacingAndGlyphs">power spectrum</text>
<text x="506" y="146.5" font-size="8.2" class="k" textLength="64.8" lengthAdjust="spacingAndGlyphs">B-3. Calculate BS</text>
<text x="586.3" y="176.4" font-size="8.2" class="k" textLength="74.4" lengthAdjust="spacingAndGlyphs">B-4. Calculate BOM</text>
<text x="324.7" y="245.9" font-size="8.2" class="k" textLength="92.8" lengthAdjust="spacingAndGlyphs">A-1: Calculate temporal</text>
<text x="324.7" y="257.3" font-size="8.2" class="k" textLength="86.9" lengthAdjust="spacingAndGlyphs">average from spatially</text>
<text x="324.7" y="268.8" font-size="8.2" class="k" textLength="57.6" lengthAdjust="spacingAndGlyphs">averaged MBR</text>
<polygon points="325.9,167.55 348.3,167.55 348.3,164.25 356.1,171.3 348.3,178.35000000000002 348.3,175.05 325.9,175.05" fill="#5b9bd5" stroke="#41719c" stroke-width="0.7"/>
<polygon points="404.1,164.7 443.1,164.7 443.1,160.85 452.3,169.1 443.1,177.35 443.1,173.5 404.1,173.5" fill="#5b9bd5" stroke="#41719c" stroke-width="0.7"/>
<polygon points="497.1,164.35 522.0,164.35 522.0,160.7 530.1,168.6 522.0,176.5 522.0,172.85 497.1,172.85" fill="#5b9bd5" stroke="#41719c" stroke-width="0.7"/>
<polygon points="584.8,189.4 623.9,189.4 623.9,184.79999999999998 633.3,193.6 623.9,202.4 623.9,197.79999999999998 584.8,197.79999999999998" fill="#5b9bd5" stroke="#41719c" stroke-width="0.7"/>
<polygon points="325.6,221.95 441.4,221.95 441.4,217.7 450,226.2 441.4,234.7 441.4,230.45 325.6,230.45" fill="#5b9bd5" stroke="#41719c" stroke-width="0.7"/>
<polygon points="512.9,219.4 560.1999999999999,219.4 560.1999999999999,215.4 568.9,223.6 560.1999999999999,231.79999999999998 560.1999999999999,227.79999999999998 512.9,227.79999999999998" fill="#5b9bd5" stroke="#41719c" stroke-width="0.7"/>
<rect x="358.4" y="159.2" width="41.1" height="20.0" rx="0.6" fill="#fff" stroke="#2a2a2a" stroke-width="1.1"/>
<rect x="458.4" y="159.1" width="32.1" height="20.1" rx="0.6" fill="#fff" stroke="#2a2a2a" stroke-width="1.1"/>
<rect x="533.4" y="159" width="28.5" height="19.6" rx="0.6" fill="#fff" stroke="#2a2a2a" stroke-width="1.1"/>
<rect x="635.8" y="182.9" width="44.4" height="20.1" rx="0.6" fill="#fff" stroke="#2a2a2a" stroke-width="1.1"/>
<rect x="454.2" y="214.4" width="52.4" height="20.3" rx="0.6" fill="#fff" stroke="#2a2a2a" stroke-width="1.1"/>
<text x="365.3" y="173.7" font-size="10.8" class="b" textLength="17.5" lengthAdjust="spacingAndGlyphs">Y(<tspan font-style="italic">n</tspan>)</text>
<text x="465.3" y="172.7" font-size="10.6" class="b" textLength="16.7" lengthAdjust="spacingAndGlyphs">P(<tspan font-style="italic">f</tspan><tspan font-size="5.5" font-style="italic" dy="1.5">i</tspan><tspan dy="-1.5">)</tspan></text>
<text x="540.7" y="172.2" font-size="10.8" class="b" textLength="11.1" lengthAdjust="spacingAndGlyphs">BS</text>
<text x="642.8" y="196" font-size="10.6" class="b" textLength="21.7" lengthAdjust="spacingAndGlyphs">BOM</text>
<text x="461.8" y="228" font-size="10.4" class="b" textLength="30.2" lengthAdjust="spacingAndGlyphs">MBR<tspan font-size="5.5" dy="1.9">avg</tspan></text>
<path d="M569.3,162.7 H575.5 Q577.6,162.7 577.6,165 V191.5 Q577.6,193.8 581.5,193.8 Q577.6,193.8 577.6,196 V222.3 Q577.6,224.6 575.5,224.6 H569.3" fill="none" stroke="#6f93ba" stroke-width="0.9"/>
<line x1="453.8" y1="212.6" x2="323.9" y2="183.0" stroke="#a3121c" stroke-width="1.2"/>
<polygon points="318.5,181.8 324.9,180.8 323.8,185.5" fill="#a3121c"/>
</svg></body></html>
